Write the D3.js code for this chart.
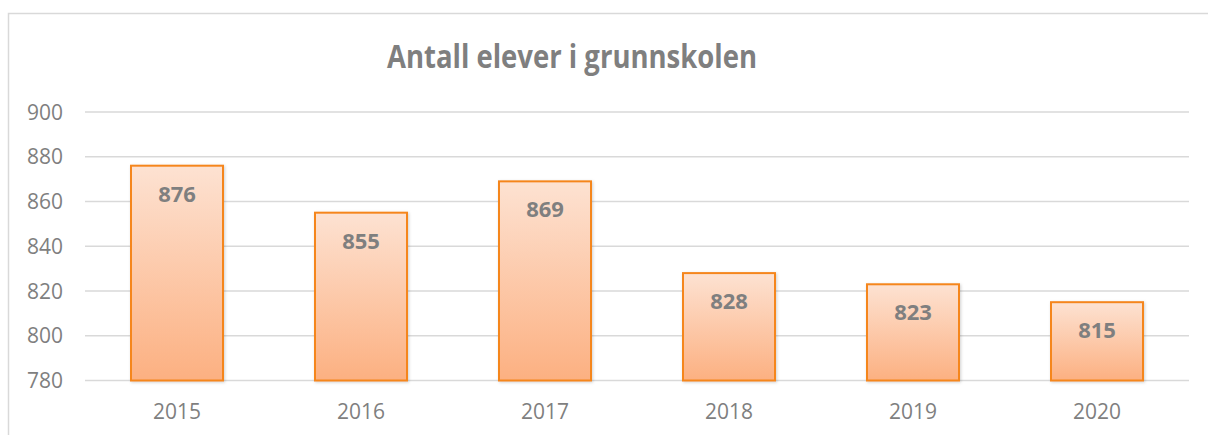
<!DOCTYPE html>
<html><head>
<meta charset="utf-8">
<script src="https://d3js.org/d3.v7.min.js"></script>
<style>
  body { margin: 0; background: #fff; }
  text { font-family: "Open Sans", "Noto Sans", sans-serif; fill: #7f7f7f; }
  .grid line { stroke: #d9d9d9; stroke-width: 1.5px; }
</style>
</head>
<body>
<svg id="chart" width="1208" height="435"></svg>
<script>
// data
const years = ["2015", "2016", "2017", "2018", "2019", "2020"];
const pupils = [876, 855, 869, 828, 823, 815];
const yTicks = [780, 800, 820, 840, 860, 880, 900];
const title = "Antall elever i grunnskolen";

const svg = d3.select("#chart");
const width = +svg.attr("width");
const height = +svg.attr("height");
const margin = { top: 112, right: 19, bottom: 54.5, left: 85 };

// outer chart border (right / bottom run off the picture)
svg.append("rect")
   .attr("x", 8.5).attr("y", 13.5)
   .attr("width", width + 20).attr("height", height + 20)
   .attr("fill", "none").attr("stroke", "#d9d9d9").attr("stroke-width", 1.5);

const x = d3.scaleBand()
            .domain(years)
            .range([margin.left, width - margin.right])
            .paddingInner(0.5).paddingOuter(0.25);

const y = d3.scaleLinear()
            .domain([780, 900])
            .range([height - margin.bottom, margin.top]);

// gradient for the bars
const defs = svg.append("defs");
const grad = defs.append("linearGradient").attr("id", "barFill")
                 .attr("x1", 0).attr("y1", 0).attr("x2", 0).attr("y2", 1);
grad.append("stop").attr("offset", "0%").attr("stop-color", "#fde2d2");
grad.append("stop").attr("offset", "100%").attr("stop-color", "#fcb081");

const shadow = defs.append("filter").attr("id", "shadow")
                   .attr("x", "-10%").attr("y", "-10%").attr("width", "130%").attr("height", "130%");
shadow.append("feDropShadow").attr("dx", 1).attr("dy", 1).attr("stdDeviation", 1.5)
      .attr("flood-color", "#000").attr("flood-opacity", 0.18);

// gridlines
svg.append("g").attr("class", "grid")
   .selectAll("line").data(yTicks)
   .join("line")
   .attr("x1", margin.left).attr("x2", width - margin.right)
   .attr("y1", d => y(d)).attr("y2", d => y(d));

// y axis labels
svg.append("g").selectAll("text").data(yTicks)
   .join("text")
   .attr("x", 63).attr("y", d => y(d))
   .attr("dy", "0.36em")
   .attr("text-anchor", "end")
   .attr("font-size", 21)
   .text(d => d);

// bars
svg.append("g").selectAll("rect").data(pupils)
   .join("rect")
   .attr("x", (d, i) => x(years[i]))
   .attr("y", d => y(d))
   .attr("width", x.bandwidth())
   .attr("height", d => y(780) - y(d))
   .attr("fill", "url(#barFill)")
   .attr("stroke", "#f5861f")
   .attr("stroke-width", 2)
   .attr("filter", "url(#shadow)");

// value labels inside the bars
svg.append("g").selectAll("text").data(pupils)
   .join("text")
   .attr("x", (d, i) => x(years[i]) + x.bandwidth() / 2)
   .attr("y", d => y(d) + 36)
   .attr("text-anchor", "middle")
   .attr("font-size", 22)
   .attr("font-weight", "bold")
   .text(d => d);

// x labels
svg.append("g").selectAll("text").data(years)
   .join("text")
   .attr("x", d => x(d) + x.bandwidth() / 2)
   .attr("y", 419)
   .attr("text-anchor", "middle")
   .attr("font-size", 21)
   .text(d => d);

// title
svg.append("text")
   .attr("x", 572).attr("y", 68)
   .attr("text-anchor", "middle")
   .attr("font-size", 32)
   .attr("font-weight", "bold")
   .attr("textLength", 370)
   .attr("lengthAdjust", "spacingAndGlyphs")
   .text(title);
</script>
</body></html>
